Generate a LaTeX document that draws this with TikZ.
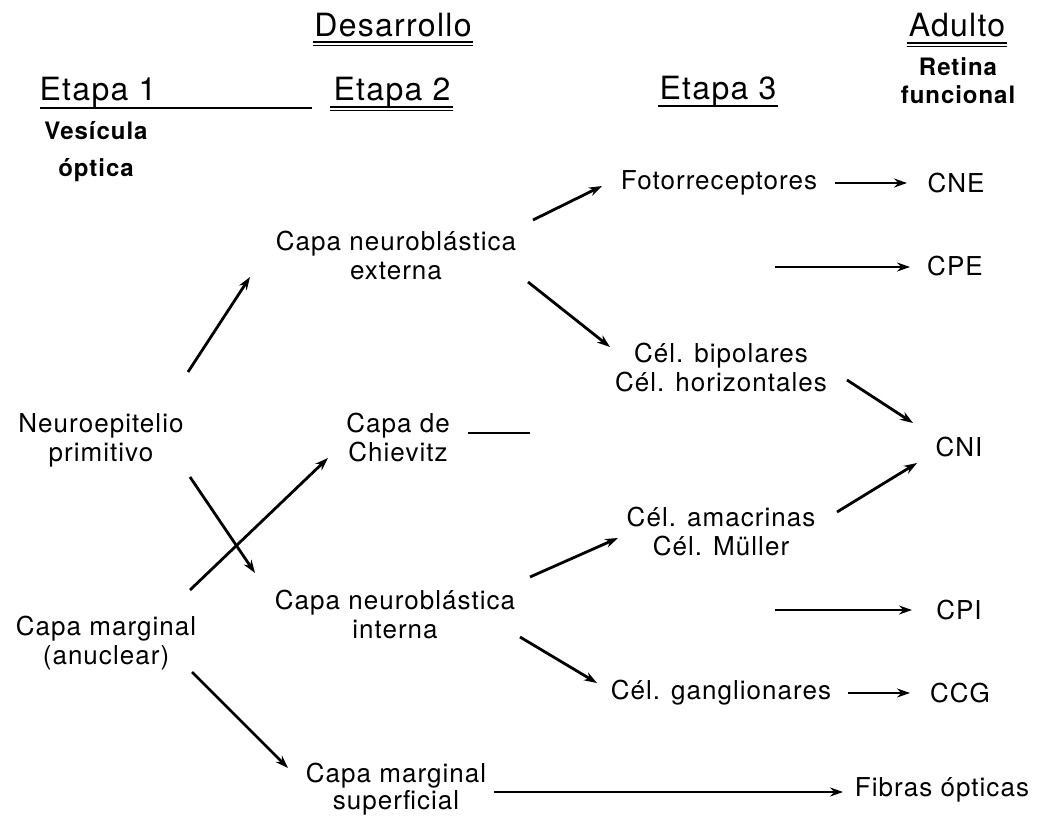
\documentclass[tikz,border=0pt]{standalone}
\usepackage{fontspec}
\setmainfont{TeX Gyre Heros}[LetterSpace=4]
\newfontfamily\boldlab{TeX Gyre Heros}[LetterSpace=4]
\usetikzlibrary{arrows.meta}
\begin{document}
\begin{tikzpicture}[x=1pt,y=-1pt,
  lab/.style={font=\fontsize{26}{29}\selectfont, align=center, inner sep=0pt},
  head/.style={font=\fontsize{32}{36}\selectfont, align=center, inner sep=0pt},
  blab/.style={font=\fontsize{24}{28}\selectfont\boldlab\bfseries, align=center, inner sep=0pt},
  arr/.style={-{Stealth[length=13pt,width=9pt]}, line width=2.8pt},
  uline/.style={line width=1.8pt},
  plain/.style={line width=2.8pt}]
\useasboundingbox (0,0) rectangle (1042,818);
% headings
\node[head] (des) at (393,25) {Desarrollo};
\node[head] (adu) at (957,25) {Adulto};
\node[blab] (ret) at (958,81) {Retina\\funcional};
\node[head] (e1) at (98,92) {Etapa 1};
\node[head] (e2) at (392,92) {Etapa 2};
\node[head] (e3) at (718,91) {Etapa 3};
\node[blab, font=\fontsize{24}{37}\selectfont\boldlab\bfseries] (ves) at (96,152) {Vesícula\\óptica};
% underlines
\draw[uline] (313,42) -- (473,42);
\draw[uline] (313,45.5) -- (473,45.5);
\draw[uline] (907,43) -- (1007,43);
\draw[uline] (907,46.5) -- (1007,46.5);
\draw[uline] (40,108) -- (312,108);
\draw[uline] (330,107) -- (453,107);
\draw[uline] (330,110.5) -- (453,110.5);
\draw[line width=1.2pt] (658,106) -- (778,106);
% nodes
\node[lab] (neu) at (101,440) {Neuroepitelio\\primitivo};
\node[lab] (cmg) at (106,643) {Capa marginal\\(anuclear)};
\node[lab] (cnx) at (396,255) {Capa neuroblástica\\externa};
\node[lab] (chv) at (398,438) {Capa de\\Chievitz};
\node[lab] (cni) at (395,614) {Capa neuroblástica\\interna};
\node[lab, font=\fontsize{26}{27}\selectfont] (cms) at (396,789) {Capa marginal\\superficial};
\node[lab] (foto) at (719,183) {Fotorreceptores};
\node[lab] (bip) at (721,368) {Cél. bipolares\\Cél. horizontales};
\node[lab] (ama) at (721,532) {Cél. amacrinas\\Cél. Müller};
\node[lab] (gan) at (721,693) {Cél. ganglionares};
\node[lab] (cne) at (956,183) {CNE};
\node[lab] (cpe) at (955,266) {CPE};
\node[lab] (cnin) at (959,447) {CNI};
\node[lab] (cpi) at (959,610) {CPI};
\node[lab] (ccg) at (960,693) {CCG};
\node[lab] (fib) at (942,790) {Fibras ópticas};
\coordinate (cpefree) at (775,267);
\coordinate (cpifree) at (775,610);
\coordinate (chvfree) at (530,433);
% connectors
\draw[arr] ([shift={(87,-68)}]neu.center) -- ([shift={(-146,22)}]cnx.center);
\draw[arr] ([shift={(89,37)}]neu.center) -- ([shift={(-140,-41)}]cni.center);
\draw[arr] ([shift={(84,-53)}]cmg.center) -- ([shift={(-70,20)}]chv.center);
\draw[arr] ([shift={(86,29)}]cmg.center) -- ([shift={(-108,-21)}]cms.center);
\draw[arr] ([shift={(137,-35)}]cnx.center) -- ([shift={(-117,3)}]foto.center);
\draw[arr] ([shift={(132,27)}]cnx.center) -- ([shift={(-111,-21)}]bip.center);
\draw[arr] ([shift={(126,12)}]bip.center) -- ([shift={(-46,-24)}]cnin.center);
\draw[arr] ([shift={(116,-20)}]ama.center) -- ([shift={(-42,16)}]cnin.center);
\draw[arr] ([shift={(135,-37)}]cni.center) -- ([shift={(-103,6)}]ama.center);
\draw[arr] ([shift={(125,23)}]cni.center) -- ([shift={(-124,-10)}]gan.center);
\draw[arr] ([shift={(116,0)}]foto.center) -- ([shift={(-49,0)}]cne.center);
\draw[arr] (cpefree) -- ([shift={(-45,1)}]cpe.center);
\draw[plain] ([shift={(70,-5)}]chv.center) -- (chvfree);
\draw[arr] (cpifree) -- ([shift={(-47,0)}]cpi.center);
\draw[arr] ([shift={(127,0)}]gan.center) -- ([shift={(-50,0)}]ccg.center);
\draw[arr] ([shift={(98,3)}]cms.center) -- ([shift={(-99,2)}]fib.center);
\end{tikzpicture}
\end{document}
